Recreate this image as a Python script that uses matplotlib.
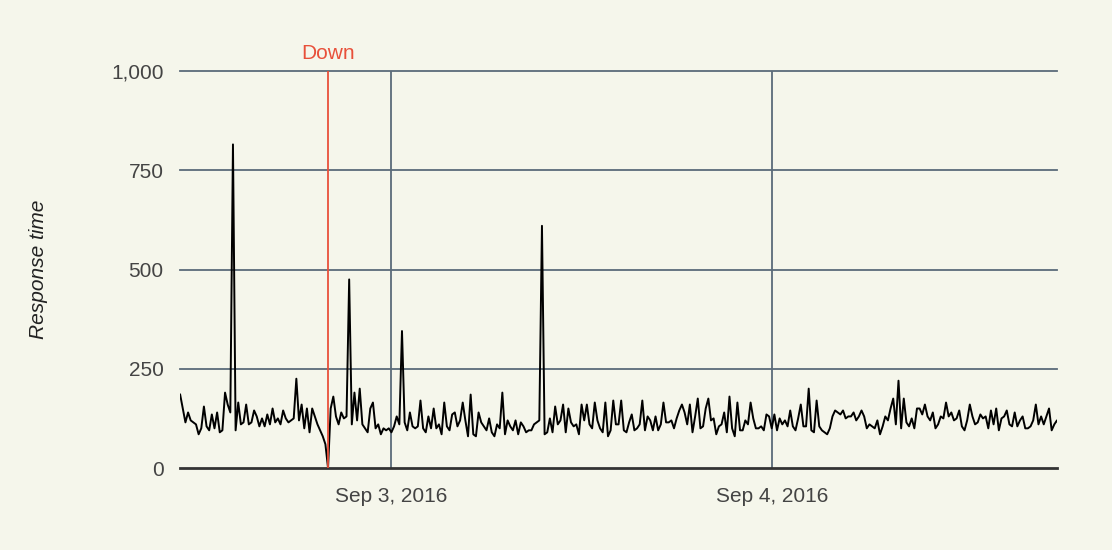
import matplotlib
matplotlib.use("Agg")
import matplotlib.pyplot as plt
import pandas as pd

plt.rcParams["font.family"] = ["Liberation Sans", "DejaVu Sans"]

values = [185,150,115,140,120,115,110,85,100,155,105,95,135,100,140,90,95,190,160,140,
          815,
          95,165,110,115,160,110,115,145,130,105,125,105,135,110,150,115,125,110,145,
          125,115,120,125,225,120,160,100,150,90,150,130,110,95,80,60,
          0,
          150,180,130,110,140,125,130,
          475,
          110,190,120,200,110,100,90,150,165,100,110,85,100,95,100,90,105,130,110,
          345,
          115,95,140,105,100,105,170,100,90,130,100,150,100,110,85,165,105,95,135,140,105,120,165,120,80,185,85,80,140,115,105,95,125,90,80,110,100,190,85,120,105,95,120,85,115,105,90,95,95,110,115,120,
          610,
          85,90,125,90,155,110,120,160,90,150,115,105,110,85,160,120,160,110,100,165,120,100,90,165,80,95,170,110,110,170,95,90,115,135,95,100,110,170,95,130,120,95,130,95,110,165,115,115,120,100,125,145,160,140,110,160,90,130,175,100,105,150,175,120,125,85,105,110,140,90,180,100,80,165,95,95,120,110,165,125,100,100,105,95,135,130,100,135,95,125,110,120,105,145,105,95,125,160,105,105,200,95,90,170,105,95,90,85,100,130,145,140,135,145,125,130,130,140,120,130,145,130,100,110,105,100,120,85,105,130,120,150,175,110,220,100,175,115,105,125,100,150,150,135,160,130,120,140,100,110,130,125,165,130,140,120,125,145,105,95,120,160,130,110,115,135,125,130,100,145,110,150,95,125,130,145,110,105,140,105,120,130,100,100,105,120,160,110,130,110,130,150,95,110,120,105,115,135,95,130,140,110,120,130,110,140,90,105,165,105,115,135,95,100,135,125,155,140,95,120,155,125,125,155]
start = "2016-09-02 10:40"
end = "2016-09-04 18:00"
down_time = pd.Timestamp("2016-09-02 20:00")
y_ticks = [0, 250, 500, 750, 1000]
x_ticks = [pd.Timestamp("2016-09-03"), pd.Timestamp("2016-09-04")]
x_labels = ["Sep 3, 2016", "Sep 4, 2016"]

times = pd.date_range(start, periods=len(values), freq="10min")
bg = "#f5f6eb"
fig = plt.figure(figsize=(11.12, 5.5), dpi=100, facecolor=bg)
ax = fig.add_axes([0.162, 0.149, 0.7885, 0.722], facecolor=bg)
ax.plot(times, values, color="black", lw=1.4, zorder=3)
ax.set_xlim(pd.Timestamp(start), pd.Timestamp(end))
ax.set_ylim(0, 1000)
ax.set_yticks(y_ticks)
ax.set_yticklabels([f"{v:,}" for v in y_ticks])
ax.set_xticks(x_ticks)
ax.set_xticklabels(x_labels)
for v in y_ticks[1:]:
    ax.axhline(v, color="#5b6b7a", lw=1.3, zorder=1, clip_on=False)
for t in x_ticks:
    ax.axvline(t, color="#5b6b7a", lw=1.3, zorder=1)
ax.axvline(down_time, color="#e8503a", lw=1.3, zorder=4)
ax.text(down_time, 1020, "Down", color="#e8503a", fontsize=15, ha="center", va="bottom")
for s in ["left", "right", "top"]:
    ax.spines[s].set_visible(False)
ax.spines["bottom"].set_color("#333333")
ax.spines["bottom"].set_linewidth(2)
ax.tick_params(length=0, labelsize=15, labelcolor="#444444", pad=12)
ax.tick_params(axis="x", pad=14)
ax.set_ylabel("Response time", fontsize=15, style="italic", color="#222222", labelpad=45)
fig.savefig("out.png", facecolor=bg)
